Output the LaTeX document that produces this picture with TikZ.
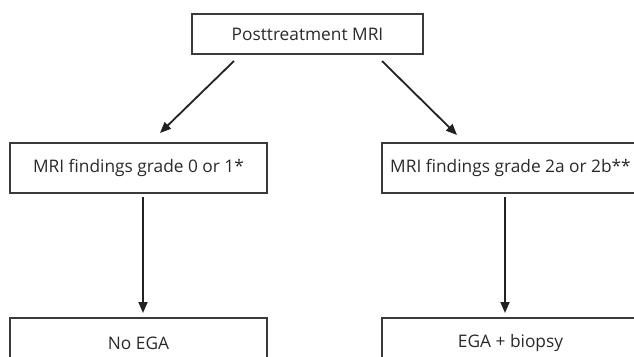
\documentclass[tikz,border=0pt]{standalone}
\usepackage{fontspec}
\setmainfont{Open Sans}
\usetikzlibrary{arrows.meta}
\definecolor{boxline}{HTML}{3A3A3A}
\definecolor{arrowline}{HTML}{222222}
\definecolor{txt}{HTML}{2A2A2A}
\tikzset{
  flowbox/.style={draw=boxline, line width=1.3pt, rectangle, minimum width=257pt, minimum height=50pt, inner sep=0pt, text=txt, font=\fontsize{17.3}{20}\selectfont},
  conn/.style={draw=arrowline, line width=1.8pt, -{Triangle[length=11pt,width=9pt]}}
}
\begin{document}
\begin{tikzpicture}[x=1pt,y=-1pt]
\useasboundingbox (0,0) rectangle (634,356);
\fill[white] (0,0) rectangle (634,356);
\clip (0,0) rectangle (634,356);
\node[flowbox, minimum width=231pt, minimum height=40pt] (top) at (307.5,34) {Posttreatment MRI};
\node[flowbox] (left) at (138.5,168) {MRI findings grade 0 or 1*};
\node[flowbox] (right) at (510.5,168) {MRI findings grade 2a or 2b**};
\node[flowbox] (noega) at (138.5,343) {No EGA};
\node[flowbox] (ega) at (510.5,343) {EGA + biopsy};
\coordinate (s1) at (234,61);
\coordinate (e1) at (160,133);
\coordinate (s2) at (382,61);
\coordinate (e2) at (457,135);
\coordinate (s3) at (143,197);
\coordinate (e3) at (143,313);
\coordinate (s4) at (505,197);
\coordinate (e4) at (505,313);
\draw[conn] (s1) -- (e1);
\draw[conn] (s2) -- (e2);
\draw[conn] (s3) -- (e3);
\draw[conn] (s4) -- (e4);
\end{tikzpicture}
\end{document}
